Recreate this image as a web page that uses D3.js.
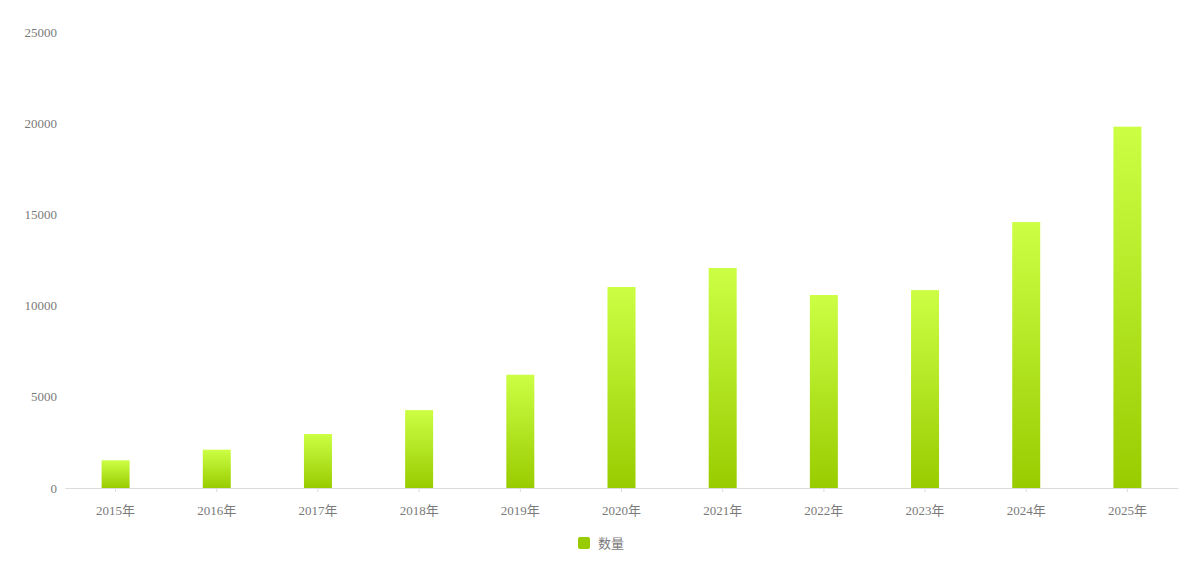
<!DOCTYPE html>
<html>
<head>
<meta charset="utf-8">
<script src="https://cdn.jsdelivr.net/npm/d3@7"></script>
<style>
  body { margin: 0; background: #fff; }
  text { font-family: "Liberation Serif", "DejaVu Serif", "Noto Sans CJK SC", serif; }
</style>
</head>
<body>
<div id="chart"></div>
<script>
// data
let years = ["2015年", "2016年", "2017年", "2018年", "2019年", "2020年",
             "2021年", "2022年", "2023年", "2024年", "2025年"];
let counts = [1520, 2100, 2960, 4270, 6210, 11020, 12060, 10580, 10850, 14580, 19810];
let yTicks = [0, 5000, 10000, 15000, 20000, 25000];
let seriesName = "数量";

const width = 1200, height = 568;
const margin = { top: 32, right: 22, bottom: 80, left: 65 };

const svg = d3.select("#chart")
    .append("svg")
    .attr("width", width)
    .attr("height", height);

// gradient for the bars
const defs = svg.append("defs");
const grad = defs.append("linearGradient")
    .attr("id", "barGrad")
    .attr("x1", 0).attr("y1", 0).attr("x2", 0).attr("y2", 1);
grad.append("stop").attr("offset", "0%").attr("stop-color", "#ccff44");
grad.append("stop").attr("offset", "100%").attr("stop-color", "#99cc00");

const x = d3.scaleBand()
    .domain(years)
    .range([margin.left, width - margin.right])
    .paddingInner(0)
    .paddingOuter(0);

const y = d3.scaleLinear()
    .domain([0, 25000])
    .range([height - margin.bottom, margin.top]);

// x axis
const xAxis = svg.append("g")
    .attr("transform", "translate(0," + y(0) + ")")
    .call(d3.axisBottom(x).tickSize(4).tickSizeOuter(0).tickPadding(14));
xAxis.select(".domain").attr("stroke", "#dcdcdc");
xAxis.selectAll(".tick line").attr("stroke", "#dcdcdc");
xAxis.selectAll("text")
    .attr("fill", "#7a7a7a")
    .style("font-size", "13px");

// y axis (labels only)
const yAxis = svg.append("g")
    .attr("transform", "translate(" + (margin.left - 8) + ",0)")
    .call(d3.axisLeft(y).tickValues(yTicks).tickFormat(d3.format("d")).tickSize(0).tickPadding(0));
yAxis.select(".domain").remove();
yAxis.selectAll("text")
    .attr("fill", "#7a7a7a")
    .style("font-size", "13px");

// bars
const barW = 28;
svg.selectAll("rect.bar")
    .data(counts)
    .enter()
    .append("rect")
    .attr("class", "bar")
    .attr("x", function (d, i) { return x(years[i]) + x.bandwidth() / 2 - barW / 2; })
    .attr("y", function (d) { return y(d); })
    .attr("width", barW)
    .attr("height", function (d) { return y(0) - y(d); })
    .attr("fill", "url(#barGrad)");

// legend
const legend = svg.append("g")
    .attr("transform", "translate(578,537)");
legend.append("rect")
    .attr("width", 12).attr("height", 12)
    .attr("rx", 2)
    .attr("fill", "#99cc00");
legend.append("text")
    .attr("x", 20).attr("y", 10.5)
    .attr("fill", "#7a7a7a")
    .style("font-size", "13px")
    .text(seriesName);
</script>
</body>
</html>
